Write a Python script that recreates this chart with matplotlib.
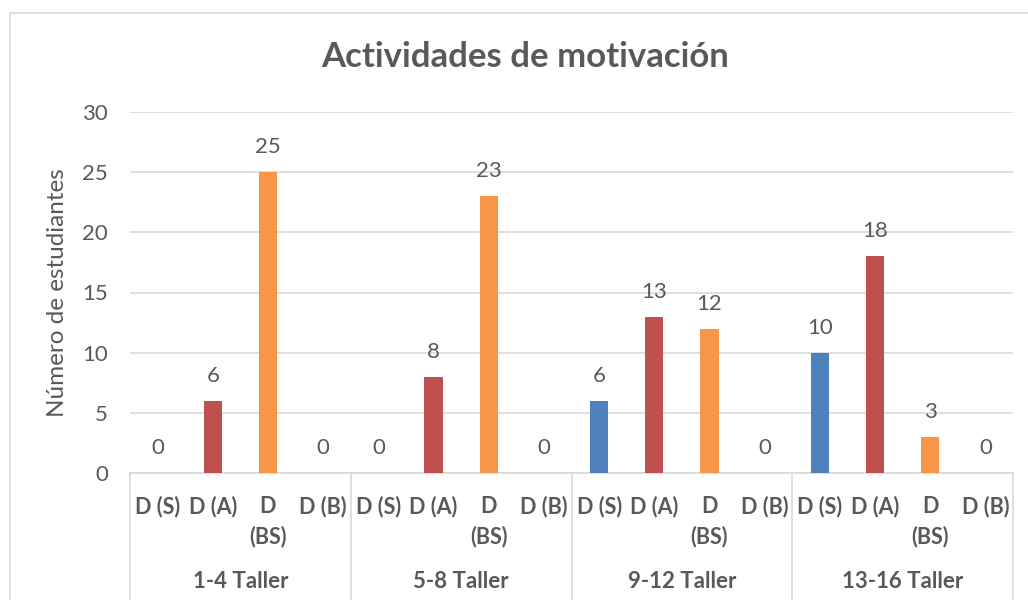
import matplotlib
matplotlib.use("Agg")
import matplotlib.pyplot as plt
from matplotlib.patches import Rectangle
from matplotlib.lines import Line2D

plt.rcParams['font.family'] = ['Lato', 'DejaVu Sans']

# Data
groups = ["1-4 Taller", "5-8 Taller", "9-12 Taller", "13-16 Taller"]
categories = ["D (S)", "D (A)", "D\n(BS)", "D (B)"]
values_1_4 = [0, 6, 25, 0]
values_5_8 = [0, 8, 23, 0]
values_9_12 = [6, 13, 12, 0]
values_13_16 = [10, 18, 3, 0]
series_values = [values_1_4, values_5_8, values_9_12, values_13_16]
category_colors = ["#4F81BD", "#C0504D", "#F79646", "#9BBB59"]

text_color = "#595959"
grid_color = "#D9D9D9"

fig = plt.figure(figsize=(10.28, 6.0), dpi=100)
plot_h = 473 - 112  # plot height in pixels
ax = fig.add_axes([130 / 1028, 1 - 473 / 600, (1013 - 130) / 1028, plot_h / 600])

# Outer chart frame
fig.patches.append(Rectangle((10 / 1028, -0.1), 1.2, 1 - 13 / 600 + 0.1,
                             transform=fig.transFigure, fill=False,
                             edgecolor=grid_color, linewidth=1.2))

ncat = len(categories)
for g, vals in enumerate(series_values):
    for c, v in enumerate(vals):
        x = g * ncat + c
        ax.bar(x, v, width=0.33, color=category_colors[c], linewidth=0, zorder=3)
        ax.annotate(str(v), (x, v), xytext=(0, 18), textcoords="offset points",
                    ha="center", va="center", fontsize=16, color=text_color)

n = len(groups) * ncat
ax.set_xlim(-0.5, n - 0.5)
ax.set_ylim(0, 30)
ax.set_yticks(range(0, 31, 5))
ax.yaxis.grid(True, color=grid_color, linewidth=1.2, zorder=0)
ax.set_axisbelow(True)
for s in ["top", "right", "left"]:
    ax.spines[s].set_visible(False)
ax.spines["bottom"].set_color(grid_color)
ax.spines["bottom"].set_linewidth(1.2)
ax.tick_params(axis="y", length=0, pad=16, labelsize=16, labelcolor=text_color)
ax.set_xticks([])

ax.set_ylabel("Número de estudiantes", fontsize=17.5, color=text_color, labelpad=10)

xt = ax.get_xaxis_transform()
# Category labels (each line on its own baseline)
for g in range(len(groups)):
    for c, lab in enumerate(categories):
        x = g * ncat + c
        for k, line in enumerate(lab.split("\n")):
            ax.text(x, -(40 + 30 * k) / plot_h, line, transform=xt,
                    ha="center", va="baseline", fontsize=15.5,
                    fontweight="bold", color=text_color)
# Group labels and separators
for g, name in enumerate(groups):
    ax.text(g * ncat + (ncat - 1) / 2, -115 / plot_h, name, transform=xt,
            ha="center", va="baseline", fontsize=16, fontweight="bold",
            color=text_color)
for g in range(len(groups) + 1):
    xs = g * ncat - 0.5
    ax.add_line(Line2D([xs, xs], [0, -0.4], transform=xt, color=grid_color,
                       linewidth=1.2, clip_on=False))

fig.text(525 / 1028, 1 - 57 / 600, "Actividades de motivación", ha="center",
         va="center", fontsize=25, fontweight="bold", color=text_color)

fig.savefig("out.png", dpi=100)
